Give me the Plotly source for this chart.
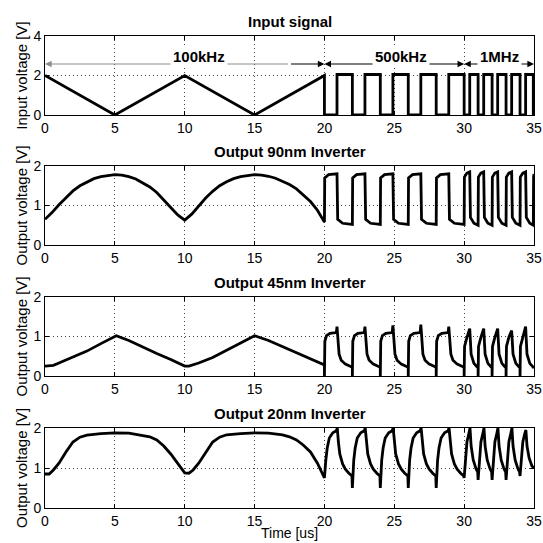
import plotly.graph_objects as go

# ---------------- data ----------------
# Input signal: breakpoints (time in us, voltage in V)
t_in = [0, 5, 10, 15, 20, 20,
        20.9, 20.9, 22.0, 22.0, 22.9, 22.9, 24.0, 24.0, 24.9, 24.9, 26.0, 26.0,
        26.9, 26.9, 28.0, 28.0, 28.9, 28.9, 30.0, 30.0,
        30.4, 30.4, 31.0, 31.0, 31.4, 31.4, 32.0, 32.0, 32.4, 32.4, 33.0, 33.0,
        33.4, 33.4, 34.0, 34.0, 34.4, 34.4, 34.95, 34.95, 35]
v_in = [2, 0, 2, 0, 2, 0,
        0, 2.05, 2.05, 0, 0, 2.05, 2.05, 0, 0, 2.05, 2.05, 0,
        0, 2.05, 2.05, 0, 0, 2.05, 2.05, 0,
        0, 2.05, 2.05, 0, 0, 2.05, 2.05, 0, 0, 2.05, 2.05, 0,
        0, 2.05, 2.05, 0, 0, 2.05, 2.05, 0, 0]

# Output 90nm inverter
t_90 = [0, 0.5, 1, 1.5, 2, 2.5, 3, 3.5, 4, 4.5, 5, 5.5, 6, 6.5, 7, 7.5, 8, 8.5, 9, 9.5, 10,
        10.5, 11, 11.5, 12, 12.5, 13, 13.5, 14, 14.5, 15, 15.5, 16, 16.5, 17, 17.5, 18, 18.5, 19, 19.5, 20,
        20.02, 20.3, 20.9, 20.95, 21.3, 22.0,
        22.02, 22.3, 22.9, 22.95, 23.3, 24.0,
        24.02, 24.3, 24.9, 24.95, 25.3, 26.0,
        26.02, 26.3, 26.9, 26.95, 27.3, 28.0,
        28.02, 28.3, 28.9, 28.95, 29.3, 30.0,
        30.02, 30.2, 30.4, 30.45, 30.7, 31.0,
        31.02, 31.2, 31.4, 31.45, 31.7, 32.0,
        32.02, 32.2, 32.4, 32.45, 32.7, 33.0,
        33.02, 33.2, 33.4, 33.45, 33.7, 34.0,
        34.02, 34.2, 34.4, 34.45, 34.7, 34.95,
        34.97, 35]
v_90 = [0.65, 0.82, 1.02, 1.2, 1.37, 1.5, 1.6, 1.68, 1.73, 1.76, 1.78, 1.77, 1.73, 1.67, 1.58, 1.47, 1.33, 1.15, 0.95, 0.76, 0.63,
        0.78, 1.0, 1.19, 1.36, 1.5, 1.6, 1.68, 1.73, 1.76, 1.78, 1.77, 1.74, 1.69, 1.62, 1.53, 1.42, 1.27, 1.1, 0.88, 0.58,
        1.7, 1.78, 1.8, 0.65, 0.55, 0.52,
        1.7, 1.78, 1.8, 0.65, 0.55, 0.52,
        1.7, 1.78, 1.8, 0.65, 0.55, 0.52,
        1.7, 1.78, 1.8, 0.65, 0.55, 0.52,
        1.7, 1.78, 1.8, 0.65, 0.55, 0.52,
        1.72, 1.82, 1.85, 0.7, 0.55, 0.5,
        1.72, 1.82, 1.85, 0.7, 0.55, 0.5,
        1.72, 1.82, 1.85, 0.7, 0.55, 0.5,
        1.72, 1.82, 1.85, 0.7, 0.55, 0.5,
        1.72, 1.82, 1.85, 0.7, 0.55, 0.5,
        1.72, 1.8]

# Output 45nm inverter
t_45 = [0, 0.6, 1, 2, 3, 4, 4.8, 5.1, 6, 7, 8, 9, 10,
        10.3, 11, 12, 13, 14, 15, 16, 17, 18, 19, 20,
        20.0, 20.03, 20.15, 20.4, 20.85, 20.9, 21.05, 21.2, 21.5, 22.0,
        22.0, 22.03, 22.15, 22.4, 22.85, 22.9, 23.05, 23.2, 23.5, 24.0,
        24.0, 24.03, 24.15, 24.4, 24.85, 24.9, 25.05, 25.2, 25.5, 26.0,
        26.0, 26.03, 26.15, 26.4, 26.85, 26.9, 27.05, 27.2, 27.5, 28.0,
        28.0, 28.03, 28.15, 28.4, 28.85, 28.9, 29.05, 29.2, 29.5, 30.0,
        30.0, 30.03, 30.2, 30.4, 30.5, 30.7, 31.0,
        31.0, 31.03, 31.2, 31.4, 31.5, 31.7, 32.0,
        32.0, 32.03, 32.2, 32.4, 32.5, 32.7, 33.0,
        33.0, 33.03, 33.2, 33.4, 33.5, 33.7, 34.0,
        34.0, 34.03, 34.2, 34.4, 34.5, 34.7, 35.0]
v_45 = [0.25, 0.27, 0.33, 0.47, 0.63, 0.82, 0.98, 1.02, 0.9, 0.73, 0.57, 0.42, 0.25,
        0.25, 0.33, 0.47, 0.65, 0.85, 1.02, 0.9, 0.75, 0.58, 0.43, 0.28,
        0.0, 0.88, 1.02, 1.08, 1.1, 1.25, 0.55, 0.4, 0.3, 0.22,
        0.0, 0.88, 1.02, 1.08, 1.1, 1.25, 0.55, 0.4, 0.3, 0.22,
        0.0, 0.88, 1.02, 1.08, 1.1, 1.28, 0.55, 0.4, 0.3, 0.22,
        0.0, 0.88, 1.02, 1.08, 1.1, 1.3, 0.55, 0.4, 0.3, 0.22,
        0.0, 0.88, 1.02, 1.08, 1.1, 1.25, 0.55, 0.4, 0.3, 0.22,
        0.0, 0.75, 0.98, 1.2, 0.55, 0.32, 0.2,
        0.0, 0.75, 0.98, 1.2, 0.55, 0.32, 0.2,
        0.0, 0.75, 0.98, 1.2, 0.55, 0.32, 0.2,
        0.0, 0.75, 0.98, 1.15, 0.55, 0.32, 0.2,
        0.0, 0.75, 0.98, 1.25, 0.55, 0.32, 0.2]

# Output 20nm inverter
t_20 = [0, 0.3, 0.6, 1, 1.5, 2, 2.5, 3, 4, 5, 6, 7, 7.5, 8, 8.5, 9, 9.5, 9.8, 10,
        10.3, 10.6, 11, 11.5, 12, 12.5, 13, 14, 15, 16, 17, 17.5, 18, 18.5, 19, 19.5, 20,
        20.1, 20.2, 20.35, 20.6, 20.85, 20.92, 21.0, 21.1, 21.3, 21.5, 21.75, 21.97, 22.0,
        22.1, 22.2, 22.35, 22.6, 22.85, 22.92, 23.0, 23.1, 23.3, 23.5, 23.75, 23.97, 24.0,
        24.1, 24.2, 24.35, 24.6, 24.85, 24.92, 25.0, 25.1, 25.3, 25.5, 25.75, 25.97, 26.0,
        26.1, 26.2, 26.35, 26.6, 26.85, 26.92, 27.0, 27.1, 27.3, 27.5, 27.75, 27.97, 28.0,
        28.1, 28.2, 28.35, 28.6, 28.85, 28.92, 29.0, 29.1, 29.3, 29.5, 29.75, 29.97, 30.0,
        30.1, 30.2, 30.33, 30.42, 30.5, 30.65, 30.85, 30.97, 31.0,
        31.1, 31.2, 31.33, 31.42, 31.5, 31.65, 31.85, 31.97, 32.0,
        32.1, 32.2, 32.33, 32.42, 32.5, 32.65, 32.85, 32.97, 33.0,
        33.1, 33.2, 33.33, 33.42, 33.5, 33.65, 33.85, 33.97, 34.0,
        34.1, 34.2, 34.33, 34.42, 34.5, 34.65, 34.85, 35.0]
v_20 = [0.85, 0.85, 0.95, 1.12, 1.4, 1.65, 1.77, 1.82, 1.86, 1.88, 1.87, 1.82, 1.78, 1.7, 1.55, 1.35, 1.1, 0.95, 0.88,
        0.87, 0.95, 1.12, 1.4, 1.65, 1.77, 1.83, 1.86, 1.88, 1.87, 1.83, 1.78, 1.7, 1.57, 1.4, 1.12, 0.75,
        1.2, 1.5, 1.75, 1.88, 1.93, 2.0, 1.65, 1.35, 1.1, 0.97, 0.87, 0.8, 0.5,
        1.2, 1.5, 1.75, 1.88, 1.93, 2.0, 1.65, 1.35, 1.1, 0.97, 0.87, 0.8, 0.5,
        1.2, 1.5, 1.75, 1.88, 1.93, 2.0, 1.65, 1.35, 1.1, 0.97, 0.87, 0.8, 0.5,
        1.2, 1.5, 1.75, 1.88, 1.93, 2.0, 1.65, 1.35, 1.1, 0.97, 0.87, 0.8, 0.5,
        1.2, 1.5, 1.75, 1.88, 1.93, 2.0, 1.65, 1.35, 1.1, 0.97, 0.87, 0.8, 0.75,
        1.3, 1.65, 1.85, 2.0, 1.55, 1.2, 0.98, 0.9, 0.7,
        1.3, 1.65, 1.85, 2.0, 1.55, 1.2, 0.98, 0.9, 0.7,
        1.3, 1.65, 1.85, 2.0, 1.55, 1.2, 0.98, 0.9, 0.7,
        1.3, 1.65, 1.85, 2.0, 1.55, 1.2, 0.98, 0.9, 0.8,
        1.3, 1.65, 1.85, 1.95, 1.55, 1.25, 1.05, 1.0]

panel_titles = ["Input signal", "Output 90nm Inverter", "Output 45nm Inverter", "Output 20nm Inverter"]
y_titles = ["Input voltage [V]", "Output voltage [V]", "Output voltage [V]", "Output voltage [V]"]
y_ranges = [[0, 4], [0, 2], [0, 2], [0, 2]]
y_dtick = [2, 1, 1, 1]
x_ticks = [0, 5, 10, 15, 20, 25, 30, 35]
x_title = "Time [us]"

band_labels = ["100kHz", "500kHz", "1MHz"]
band_edges = [(0, 20), (20, 30), (30, 35)]
band_split = [17.5, 25.0, 32.5]          # where the arrow line changes shade
band_shade = [("#8c8c8c", "black"), ("black", "black"), ("black", "black")]
band_label_x = [11, 25.5, 32.5]
band_arrow_y = 2.58

# ---------------- figure ----------------
W = H = 543
mt, mb, ml, mr = 36, 35, 45, 9
ph = H - mt - mb
rows_px = [(36, 115), (166, 245), (297, 376), (428, 508)]
domains = [[1 - (b - mt) / ph, 1 - (t - mt) / ph] for t, b in rows_px]

series = [(t_in, v_in), (t_90, v_90), (t_45, v_45), (t_20, v_20)]
FONT = "Liberation Sans, Arial, Helvetica, sans-serif"
FS = 15
TFS = 14

fig = go.Figure()
layout = dict(width=W, height=H, margin=dict(l=ml, r=mr, t=mt, b=mb, autoexpand=False),
              paper_bgcolor="white", plot_bgcolor="white", showlegend=False,
              font=dict(family=FONT, size=FS, color="black"))
annotations = []
for i, (tt, vv) in enumerate(series):
    k = "" if i == 0 else str(i + 1)
    fig.add_trace(go.Scatter(x=tt, y=vv, mode="lines", xaxis="x" + k, yaxis="y" + k,
                             line=dict(color="black", width=2.8), hoverinfo="skip"))
    axcommon = dict(showline=True, linecolor="black", linewidth=1, mirror="ticks",
                    ticks="inside", ticklen=4, tickcolor="black", zeroline=False,
                    showgrid=True, gridcolor="#444444", griddash="1px,3px", gridwidth=1,
                    ticklabeloverflow="allow", automargin=False,
                    tickfont=dict(family=FONT, size=TFS, color="black"))
    xa = dict(axcommon, range=[0, 35], tickvals=x_ticks, domain=[0, 1],
              anchor="y" + k)
    ya = dict(axcommon, range=y_ranges[i], dtick=y_dtick[i], domain=domains[i],
              anchor="x" + k,
              title=dict(text=y_titles[i], font=dict(family=FONT, size=FS), standoff=2))
    layout["xaxis" + k] = xa
    layout["yaxis" + k] = ya
    annotations.append(dict(text="<b>" + panel_titles[i] + "</b>", xref="paper", yref="paper",
                            x=0.5, y=domains[i][1], xanchor="center", yanchor="bottom",
                            yshift=4, showarrow=False,
                            font=dict(family=FONT, size=FS, color="black")))

annotations.append(dict(text=x_title, xref="paper", yref="paper", x=0.5, y=0,
                        xanchor="center", yanchor="top", yshift=-16, showarrow=False,
                        borderpad=0,
                        font=dict(family=FONT, size=TFS, color="black")))

# double-headed arrows in the top panel
for (x0, x1), xs, (c0, c1) in zip(band_edges, band_split, band_shade):
    for (a, b, c) in [(xs, x0, c0), (xs, x1, c1)]:
        annotations.append(dict(x=b, y=band_arrow_y, ax=a, ay=band_arrow_y, xref="x", yref="y",
                                axref="x", ayref="y", text="", showarrow=True, arrowhead=2,
                                arrowsize=1.2, arrowwidth=1.1, arrowcolor=c,
                                standoff=0, startstandoff=0))
for lab, xc in zip(band_labels, band_label_x):
    annotations.append(dict(text="<b>" + lab + "</b>", x=xc, y=band_arrow_y, xref="x", yref="y",
                            showarrow=False, bgcolor="white", yanchor="bottom", yshift=-4,
                            borderpad=2, font=dict(family=FONT, size=FS, color="black")))

layout["annotations"] = annotations
fig.update_layout(**layout)
fig.write_html("out.html")
